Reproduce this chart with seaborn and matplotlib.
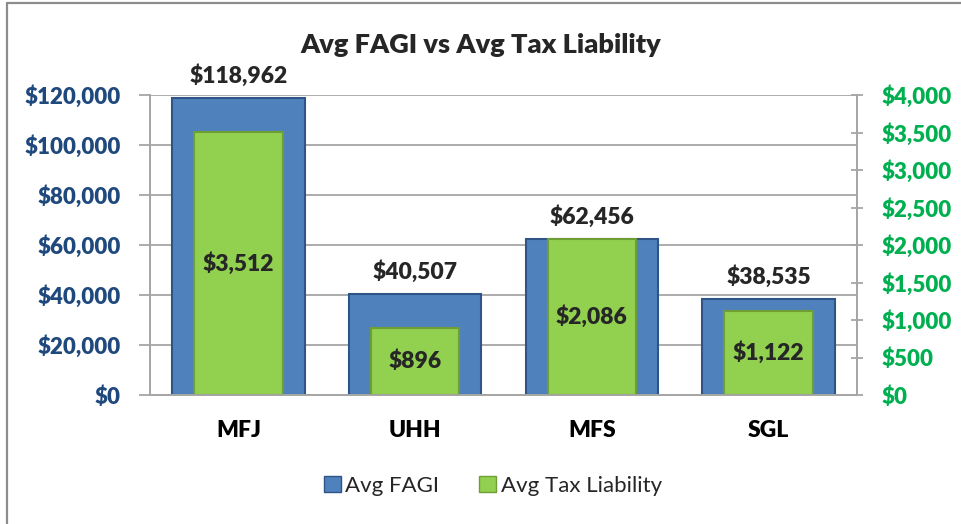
import numpy as np
import pandas as pd
import matplotlib.pyplot as plt
import seaborn as sns
from matplotlib.patches import Rectangle
from matplotlib.lines import Line2D
from matplotlib.ticker import FuncFormatter, MultipleLocator

# ─── Data ────────────────────────────────────────────────────────
filing_status = ["MFJ", "UHH", "MFS", "SGL"]
avg_fagi = [118962, 40507, 62456, 38535]
avg_tax = [3512, 896, 2086, 1122]

BLUE, BLUE_EDGE = "#4F81BD", "#2F5487"
GREEN, GREEN_EDGE = "#92D050", "#6E9E34"
LEFT_TXT, RIGHT_TXT = "#1F497D", "#00B050"
GRID = "#A6A6A6"
W = "heavy"

sns.set_theme(style="white")
plt.rcParams["font.family"] = ["Lato", "DejaVu Sans"]

fig = plt.figure(figsize=(9.62, 5.24), dpi=100)
ax = fig.add_axes([150 / 962, 1 - 395 / 524, 707 / 962, 300 / 524])
ax2 = ax.twinx()

df = pd.DataFrame({"status": filing_status, "fagi": avg_fagi, "tax": avg_tax})

sns.barplot(data=df, x="status", y="fagi", ax=ax, color=BLUE, width=0.75,
            edgecolor=BLUE_EDGE, linewidth=1.5, saturation=1)
sns.barplot(data=df, x="status", y="tax", ax=ax2, color=GREEN, width=0.5,
            edgecolor=GREEN_EDGE, linewidth=1.5, saturation=1)

ax.set_ylim(0, 120000)
ax2.set_ylim(0, 4000)
ax.set_xlim(-0.5, 3.5)
ax.yaxis.set_major_locator(MultipleLocator(20000))
ax2.yaxis.set_major_locator(MultipleLocator(500))
ax.yaxis.set_major_formatter(FuncFormatter(lambda v, p: f"${v:,.0f}"))
ax2.yaxis.set_major_formatter(FuncFormatter(lambda v, p: f"${v:,.0f}"))

ax.set_xlabel("")
ax.set_ylabel("")
ax2.set_ylabel("")
ax2.set_xlabel("")

ax.set_axisbelow(True)
ax.yaxis.grid(True, color=GRID, linewidth=1.3)
for a in (ax, ax2):
    for s in a.spines.values():
        s.set_color(GRID)
        s.set_linewidth(1.3)
    a.spines["top"].set_visible(False)

ax.tick_params(axis="y", colors=GRID, labelcolor=LEFT_TXT, labelsize=16,
               length=8, width=1.3, direction="out", left=True, pad=13)
ax2.tick_params(axis="y", colors=GRID, labelcolor=RIGHT_TXT, labelsize=16,
                length=9, width=1.3, direction="inout", right=True, pad=13)
ax.tick_params(axis="x", length=0, labelsize=16.5, labelcolor="black", pad=18)
for lbl in ax.get_yticklabels() + ax2.get_yticklabels() + ax.get_xticklabels():
    lbl.set_fontweight(W)

ax.bar_label(ax.containers[0], labels=[f"${v:,}" for v in avg_fagi],
             padding=8, fontsize=16.5, fontweight=W)
ax2.bar_label(ax2.containers[0], labels=[f"${v:,}" for v in avg_tax],
              label_type="center", fontsize=16.5, fontweight=W)

fig.text(0.5, 1 - 45 / 524, "Avg FAGI vs Avg Tax Liability", ha="center",
         va="center", fontsize=19.5, fontweight=W)

handles = [Rectangle((0, 0), 1, 1, facecolor=BLUE, edgecolor=BLUE_EDGE),
           Rectangle((0, 0), 1, 1, facecolor=GREEN, edgecolor=GREEN_EDGE)]
fig.legend(handles, ["Avg FAGI", "Avg Tax Liability"], loc="center",
           bbox_to_anchor=(493 / 962, 1 - 486 / 524), ncol=2, frameon=False,
           fontsize=16, handlelength=0.75, handleheight=0.75,
           handletextpad=0.2, columnspacing=1.8)

# chart frame (only the top and left edges are in view)
fig.add_artist(Line2D([6.5 / 962, 1], [1 - 3 / 524, 1 - 3 / 524],
                      transform=fig.transFigure, color="#8C8C8C", linewidth=1.6))
fig.add_artist(Line2D([6.5 / 962, 6.5 / 962], [0, 1 - 3 / 524],
                      transform=fig.transFigure, color="#8C8C8C", linewidth=1.6))

fig.savefig("out.png", dpi=100)
